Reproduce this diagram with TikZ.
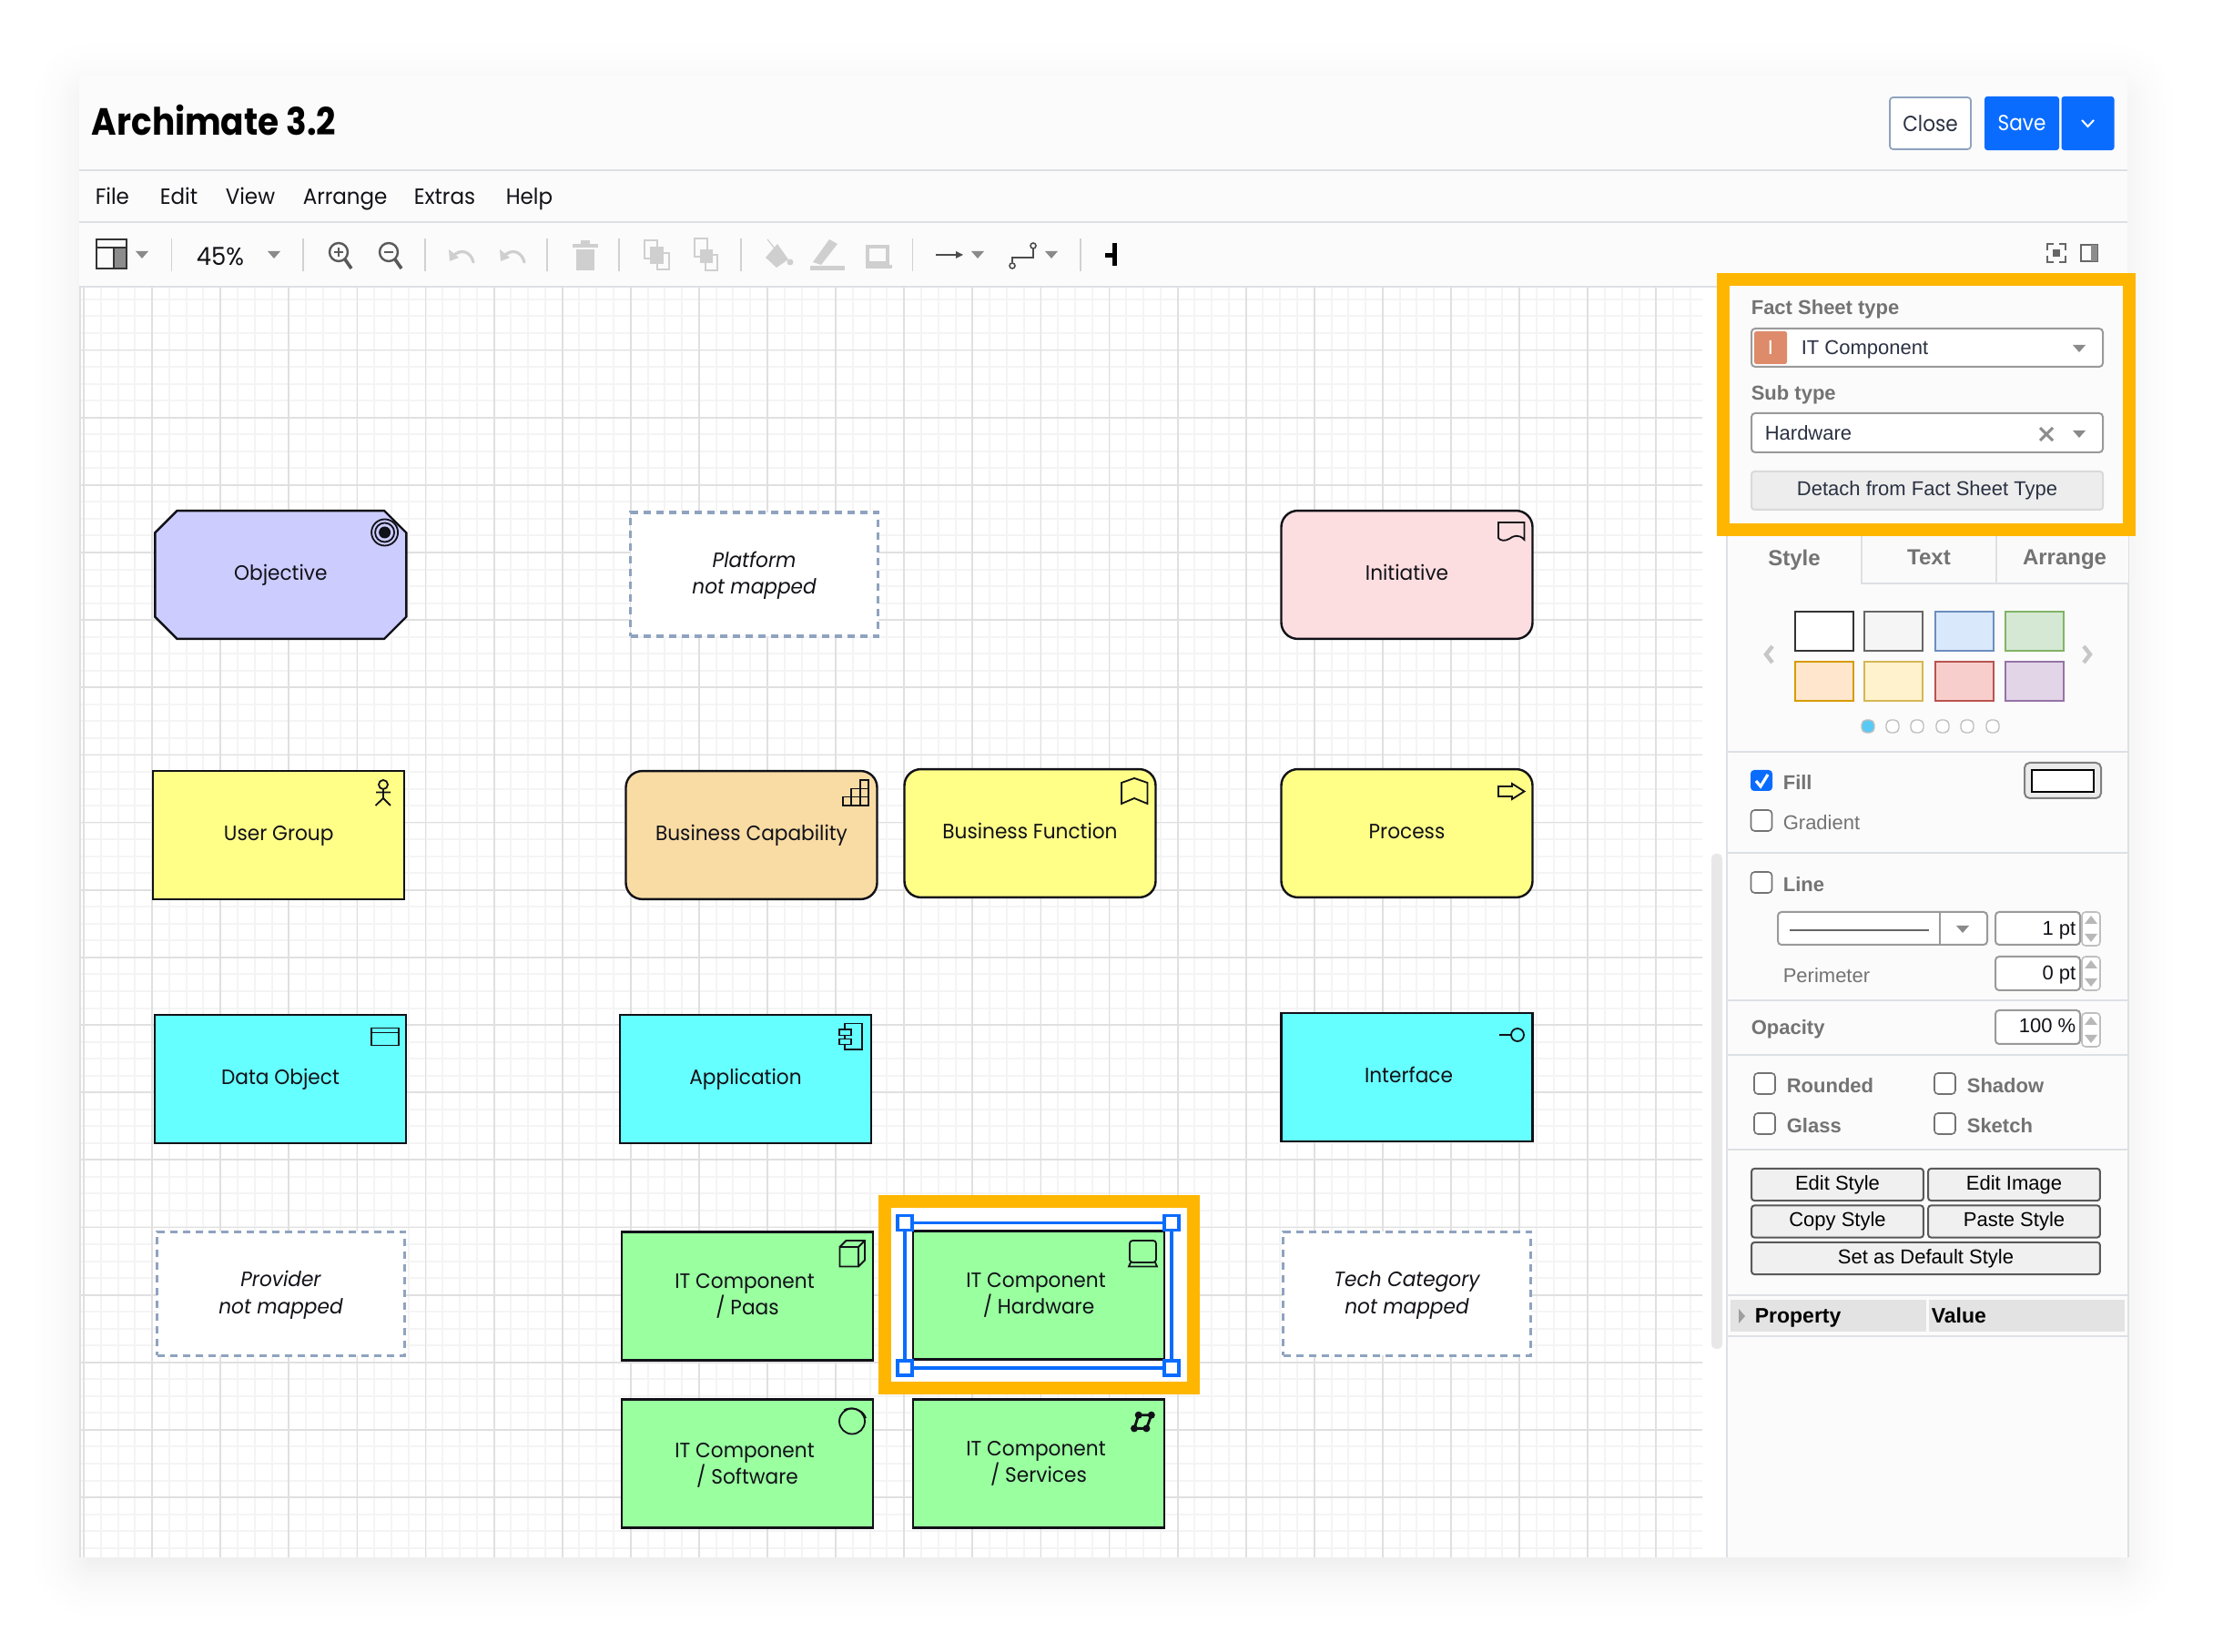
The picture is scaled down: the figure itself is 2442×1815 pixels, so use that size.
\documentclass[tikz,border=0pt]{standalone}
\usepackage{fontspec}
\usetikzlibrary{shapes.misc}
\newfontfamily\poppins[FakeStretch=0.95]{Poppins}
\newfontfamily\poppinsnarrow[FakeStretch=0.9]{Poppins}
\newfontfamily\arialish{Liberation Sans}
\newcommand{\elemfont}{\poppins\fontsize{5.7}{7.4}\selectfont}
\newcommand{\menufont}{\poppins\fontsize{6.05}{7}\selectfont}
\newcommand{\panelfont}{\arialish\fontsize{5.5}{7}\selectfont}
\newcommand{\labelfont}{\arialish\bfseries\fontsize{5.5}{7}\selectfont}
\newcommand{\dropline}{\rule{0pt}{5pt}}
\definecolor{inkcol}{HTML}{111118}
\definecolor{slatecol}{HTML}{2A3142}
\definecolor{labelcol}{HTML}{737373}
\definecolor{sheetcol}{HTML}{FBFBFB}
\definecolor{rulecol}{HTML}{DDE0E4}
\definecolor{gridmajor}{HTML}{E0E0E0}
\definecolor{gridminor}{HTML}{F4F4F4}
\definecolor{hilitecol}{HTML}{FFB600}
\definecolor{bluecol}{HTML}{0A6CFF}
\definecolor{dashcol}{HTML}{8FA3BF}
\definecolor{lilaccol}{HTML}{CCCCFF}
\definecolor{pinkcol}{HTML}{FDDEE0}
\definecolor{yellowcol}{HTML}{FFFF88}
\definecolor{tancol}{HTML}{F9DCA4}
\definecolor{cyancol}{HTML}{66FFFF}
\definecolor{greencol}{HTML}{99FF9F}
\definecolor{offcol}{HTML}{CFCFCF}
\definecolor{inputline}{HTML}{9A9A9A}
\definecolor{triancol}{HTML}{8A8A8A}
\definecolor{badgecol}{HTML}{DD8B6B}
\tikzset{
  elem/.style = {draw = inkcol, line width = .6pt, inner sep = 0, minimum width = 69pt,
    minimum height = 35.2pt, align = center, font = \elemfont, text = inkcol},
  oneline/.style = {text height = 4.4pt, text depth = 1.3pt},
  softelem/.style = {elem, oneline, rounded corners = 4.5pt},
  ghostelem/.style = {elem, draw = dashcol, fill = white, line width = .85pt,
    dash pattern = on 2pt off 1.5pt, minimum width = 68pt, minimum height = 34pt,
    font = \elemfont\itshape},
  icon/.style = {draw = inkcol, line width = .45pt},
  menutxt/.style = {anchor = base west, inner sep = 0, font = \menufont, text = inkcol},
  paneltxt/.style = {anchor = base west, inner sep = 0, font = \panelfont, text = slatecol},
  graytxt/.style = {anchor = base west, inner sep = 0, font = \panelfont, text = labelcol},
  boldtxt/.style = {anchor = base west, inner sep = 0, font = \labelfont, text = labelcol},
  numtxt/.style = {anchor = base east, inner sep = 0, font = \panelfont, text = inkcol},
  tabtxt/.style = {anchor = base, inner sep = 0, text = labelcol,
    font = \arialish\bfseries\fontsize{6}{7}\selectfont},
  cmdbtn/.style = {draw = black!65, fill = black!6, line width = .5pt, rounded corners = .8pt,
    inner sep = 0, minimum width = 47.2pt, minimum height = 8.8pt, font = \panelfont, text = black,
    text height = 4.2pt, text depth = 1.2pt},
  inputbox/.style = {draw = inputline, fill = white, line width = .5pt, rounded corners = 1pt},
  sepline/.style = {draw = rulecol, line width = .55pt},
  tbsep/.style = {draw = black!18, line width = .3pt},
  handle/.style = {draw = bluecol, fill = white, line width = .9pt, inner sep = 0, minimum size = 4pt},
  hilite/.style = {draw = hilitecol, line width = 3.5pt},
  droptri/.pic = {\fill (-7, -4) -- (7, -4) -- (0, 4) -- cycle;},
  chkbox/.pic = {\draw [draw = black!55, fill = white, line width = .4pt, rounded corners = 1pt] (0, 0) rectangle (23, 23);},
  spinner/.pic = {
    \draw [draw = black!25, fill = white, line width = .4pt, rounded corners = 1pt] (0, 0) rectangle (20, 37);
    \fill [black!28] (3, 13) -- (17, 13) -- (10, 4) -- cycle;
    \fill [black!28] (3, 24) -- (17, 24) -- (10, 33) -- cycle;
  },
  undoshape/.pic = {
    \draw [line width = .8pt, line cap = round] (13, 8) .. controls (10, -4) and (-1, -7) .. (-9, 1);
    \fill (-14, -6) -- (-13, 7) -- (-3, 3) -- cycle;
  },
}
\begin{document}
\begin{tikzpicture}[x = .25pt, y = -.25pt]
  \useasboundingbox (0, 0) rectangle (2442, 1815);
  % soft shadow round the window
  \foreach \d in {65, 61, ..., -15} {
    \pgfmathsetmacro{\k}{1 - (\d + 15) / 80}
    \pgfmathsetmacro{\p}{6.5 * \k * \k}
    \pgfmathsetmacro{\r}{max(\d + 15, 1) * .25}
    \fill [black!\p!white, rounded corners = \r pt] ({87 - \d}, {98 - \d}) rectangle ({2337 + \d}, {1726 + \d});
  }
  \fill [sheetcol] (87, 83) rectangle (2337, 1711);
  \fill [white] (87, 316) rectangle (1897, 1711);

  % grid of the canvas
  \begin{scope}
    \clip (87, 316) rectangle (1870, 1711);
    \foreach \i in {0, ..., 96} {
      \draw [gridminor, line width = .5pt] ({92 + 18.775 * \i}, 300) -- ({92 + 18.775 * \i}, 1720);
    }
    \foreach \i in {0, ..., 76} {
      \draw [gridminor, line width = .5pt] (80, {310.4 + 18.5375 * \i}) -- (1890, {310.4 + 18.5375 * \i});
    }
    \foreach \i in {0, ..., 24} {
      \draw [gridmajor, line width = .45pt] ({92 + 75.1 * \i}, 300) -- ({92 + 75.1 * \i}, 1720);
    }
    \foreach \i in {0, ..., 19} {
      \draw [gridmajor, line width = .45pt] (80, {310.4 + 74.15 * \i}) -- (1890, {310.4 + 74.15 * \i});
    }
    \draw [gridmajor, line width = .45pt] (88, 300) -- (88, 1720);
  \end{scope}

  % header
  \node [anchor = base west, inner sep = 0, text = black, font = \poppinsnarrow\bfseries\fontsize{10.4}{12}\selectfont] (title) at (100, 149) {Archimate 3.2};
  \draw [sepline] (87, 187) -- (2337, 187);
  \draw [sepline] (87, 244) -- (2337, 244);
  \draw [sepline] (87, 315) -- (2337, 315);
  \foreach \x/\t in {104/File, 175/Edit, 247/View, 332/Arrange, 454/Extras, 555/Help} {
    \node [menutxt] (menu\t) at (\x, 225) {\t};
  }
  \node [draw = dashcol, fill = white, line width = .45pt, rounded corners = .8pt, inner sep = 0,
    minimum width = 22.2pt, minimum height = 14.2pt, text = slatecol,
    font = \poppinsnarrow\fontsize{6}{7}\selectfont] (closebtn) at (2120.5, 135.5) {Close};
  \node [fill = bluecol, rounded corners = .8pt, inner sep = 0, minimum width = 20.5pt,
    minimum height = 14.8pt, text = white, font = \poppinsnarrow\fontsize{6}{7}\selectfont] (savebtn) at (2221, 135.5) {Save};
  \node [fill = bluecol, rounded corners = .8pt, inner sep = 0, minimum width = 14.5pt,
    minimum height = 14.8pt] (savemore) at (2293.5, 135.5) {};
  \draw [white, line width = .5pt] (2287, 132) -- (2293.5, 139) -- (2300, 132);

  % toolbar
  \foreach \x in {188.5, 333, 467, 601, 680, 814, 1002.5, 1187} {
    \draw [tbsep] (\x, 262) -- (\x, 298);
  }
  \fill [black!45] (125, 272) rectangle (139, 295);
  \draw [icon, draw = black!80] (106, 263) rectangle (139, 295);
  \draw [icon, draw = black!80] (106, 272) -- (139, 272) (125, 272) -- (125, 295);
  \pic [color = triancol] at (156, 280) {droptri};
  \node [menutxt, font = \poppins\fontsize{6.8}{8}\selectfont] (zoomval) at (215, 292) {45\%};
  \pic [color = triancol] at (301, 280) {droptri};
  \foreach \x/\s in {372/1, 427/0} {
    \draw [black!65, line width = .6pt] (\x, 277) circle [radius = 10];
    \draw [black!65, line width = .9pt] ({\x + 7}, 285) -- ({\x + 14}, 295);
    \draw [black!65, line width = .3pt] ({\x - 5}, 277) -- ({\x + 5}, 277);
  }
  \draw [black!65, line width = .3pt] (372, 272) -- (372, 282);
  \pic [color = offcol] at (507, 280) {undoshape};
  \begin{scope}[xscale = -1]
    \pic [color = offcol] at (-563, 280) {undoshape};
  \end{scope}
  % trash
  \fill [offcol] (633, 274) rectangle (653, 297);
  \fill [offcol] (629, 268) rectangle (657, 272);
  \fill [offcol] (638, 264) rectangle (648, 268);
  % to front, to back
  \draw [offcol, line width = .5pt] (708, 264) rectangle (722, 284);
  \draw [offcol, line width = .5pt] (722, 278) rectangle (735, 296);
  \fill [offcol] (714, 271) rectangle (729, 290);
  \draw [offcol, line width = .5pt] (763, 262) rectangle (777, 282);
  \draw [offcol, line width = .5pt] (775, 280) rectangle (788, 297);
  \fill [offcol] (769, 274) rectangle (783, 289);
  % fill, line, shadow
  \fill [offcol] (854, 268) -- (866, 285) -- (853, 294) -- (841, 283) -- cycle;
  \draw [offcol, line width = .3pt] (843, 263) -- (855, 278);
  \fill [offcol] (868, 288) circle [radius = 3.5];
  \fill [offcol] (893, 288) -- (911, 263) -- (920, 268) -- (902, 291) -- cycle;
  \fill [offcol] (890, 292) rectangle (928, 297);
  \draw [offcol, line width = 1pt] (953, 271) rectangle (975, 289);
  \fill [offcol] (951, 291) rectangle (980, 295);
  % connector tools
  \draw [black!70, line width = .45pt] (1028, 280) -- (1054, 280);
  \fill [black!70] (1058, 280) -- (1050, 276) -- (1050, 284) -- cycle;
  \pic [color = triancol] at (1074, 280) {droptri};
  \draw [black!70, line width = .45pt] (1112, 288) -- (1112, 283) -- (1135, 283) -- (1135, 273);
  \draw [black!70, line width = .4pt, fill = white] (1112, 292) circle [radius = 3] (1135, 270) circle [radius = 3];
  \pic [color = triancol] at (1155, 280) {droptri};
  \fill [black] (1222, 267) rectangle (1227, 292);
  \fill [black] (1214, 278) rectangle (1222, 283);
  % right icons
  \draw [black!60, line width = .6pt]
    (2249, 275) -- (2249, 268) -- (2256, 268) (2262, 268) -- (2269, 268) -- (2269, 275)
    (2269, 281) -- (2269, 288) -- (2262, 288) (2256, 288) -- (2249, 288) -- (2249, 281);
  \fill [black!60] (2255, 274) rectangle (2263, 282);
  \draw [black!60, line width = .4pt] (2286, 269) rectangle (2304, 287);
  \fill [black!45] (2297, 269) rectangle (2304, 287);

  % canvas elements
  \node [elem, oneline, chamfered rectangle, chamfered rectangle sep = 3.2pt, fill = lilaccol] (objective) at (308.3, 631.5) {Objective};
  \node [ghostelem] (platform) at (828.6, 631) {\dropline Platform\\not mapped};
  \node [softelem, fill = pinkcol] (initiative) at (1545.5, 631.5) {Initiative};
  \node [elem, oneline, fill = yellowcol] (usergroup) at (306.2, 917.5) {User Group};
  \node [softelem, fill = tancol] (capability) at (825.5, 917.5) {Business Capability};
  \node [softelem, fill = yellowcol] (bizfunction) at (1131.5, 915.5) {Business Function};
  \node [softelem, fill = yellowcol] (process) at (1545.5, 915.5) {Process};
  \node [elem, oneline, fill = cyancol] (dataobject) at (308, 1185.5) {Data Object};
  \node [elem, oneline, fill = cyancol] (application) at (819, 1185.5) {Application};
  \node [elem, oneline, fill = cyancol] (interface) at (1545.5, 1183.5) {\hspace*{1pt}Interface};
  \node [ghostelem] (provider) at (308.5, 1421.5) {\dropline Provider\\not mapped};
  \node [elem, fill = greencol] (itpaas) at (821, 1424) {IT Component\hspace*{1.5pt}\\/ Paas};
  \node [ghostelem] (techcat) at (1545.5, 1421.5) {\dropline Tech Category\\not mapped};
  \node [elem, fill = greencol] (itsoftware) at (821, 1608) {\dropline IT Component\hspace*{1.5pt}\\/ Software};
  \node [elem, fill = greencol] (itservices) at (1141, 1608) {IT Component\hspace*{1.5pt}\\/ Services};

  % highlight round the selected element
  \fill [white] (972, 1320) rectangle (1311, 1525);
  \draw [hilite] (972, 1320) rectangle (1311, 1525);
  \node [elem, fill = greencol] (ithardware) at (1141, 1423) {IT Component\hspace*{1.5pt}\\/ Hardware};
  \coordinate (selnw) at (994, 1343.5);
  \coordinate (selne) at (1287, 1343.5);
  \coordinate (selse) at (1287, 1503);
  \coordinate (selsw) at (994, 1503);
  \draw [bluecol, line width = .9pt] (selnw) -- (selne) -- (selse) -- (selsw) -- cycle;
  \node [handle] (hnw) at (selnw) {};
  \node [handle] (hne) at (selne) {};
  \node [handle] (hse) at (selse) {};
  \node [handle] (hsw) at (selsw) {};

  % element icons
  \draw [icon] (422.6, 585) circle [radius = 14.5];
  \draw [icon] (422.6, 585) circle [radius = 10.5];
  \fill [inkcol] (422.6, 585) circle [radius = 6.5];
  \draw [icon] (421, 862) circle [radius = 5];
  \draw [icon] (421, 867) -- (421, 877) (413, 870.5) -- (429, 870.5) (412.5, 885) -- (421, 877) -- (429, 885);
  \draw [icon] (926, 885) rectangle (954, 875.5) (935.3, 885) -- (935.3, 866.5) -- (954, 866.5)
    (944.7, 885) -- (944.7, 857) -- (954, 857) -- (954, 875.5);
  \draw [icon] (1646, 574) -- (1674.5, 574) -- (1674.5, 593) .. controls (1668, 586) and (1662, 589) .. (1658, 592) .. controls (1653, 595) and (1648, 594) .. (1646, 591) -- cycle;
  \draw [icon] (1232, 860) -- (1246, 855) -- (1260.5, 860) -- (1260.5, 883) -- (1246, 877) -- (1232, 883) -- cycle;
  \draw [icon] (1646, 864) -- (1661, 864) -- (1661, 861) -- (1674.5, 869.5) -- (1661, 878) -- (1661, 875) -- (1646, 875) -- cycle;
  \draw [icon] (408, 1129.5) rectangle (438, 1148.5) (408, 1134.5) -- (438, 1134.5);
  \draw [icon] (928, 1131) -- (928, 1124.5) -- (946.6, 1124.5) -- (946.6, 1153) -- (928, 1153) -- (928, 1147.5);
  \draw [icon] (922, 1131) rectangle (934.6, 1137.5) (922, 1141.5) rectangle (934.6, 1147.5) (928, 1137.5) -- (928, 1141.5);
  \draw [icon] (1647, 1137) -- (1660, 1137);
  \draw [icon] (1667, 1137) circle [radius = 7];
  \draw [icon] (922.5, 1370) rectangle (943, 1391.5) (922.5, 1370) -- (929.5, 1363) -- (950, 1363) -- (950, 1384.5) -- (943, 1391.5) (943, 1370) -- (950, 1363);
  \draw [icon, rounded corners = .8pt] (1241, 1363) rectangle (1270, 1387);
  \draw [icon] (1242, 1387) -- (1240, 1391.5) -- (1271, 1391.5) -- (1269, 1387);
  \draw [icon] (936, 1561.5) circle [radius = 14];
  \draw [icon] (927, 1549.5) .. controls (934, 1545) and (948, 1548) .. (951, 1558);
  \draw [icon, line width = .7pt] (1250.7, 1554.7) -- (1264.8, 1554.7) -- (1259.4, 1569.4) -- (1246, 1569.4) -- cycle;
  \foreach \x/\y in {1250.7/1554.7, 1264.8/1554.7, 1259.4/1569.4, 1246/1569.4} {
    \fill [inkcol] (\x, \y) circle [radius = 4];
  }

  % scrollbar
  \fill [black!9, rounded corners = 1.2pt] (1880, 938) rectangle (1892, 1482);

  % right panel
  \fill [sheetcol] (1897, 316) rectangle (2338, 1711);
  \draw [sepline] (1897, 575) -- (1897, 1711);
  \draw [sepline] (2338, 575) -- (2338, 1711);
  \fill [black!2] (2045, 589) rectangle (2338, 641);
  \draw [sepline] (2045, 589) -- (2045, 641) -- (2338, 641) (2193, 589) -- (2193, 641);
  \node [tabtxt] (tabstyle) at (1971, 622) {Style};
  \node [tabtxt] (tabtext) at (2119, 621) {Text};
  \node [tabtxt] (tabarrange) at (2268, 621) {Arrange};

  % fact sheet box
  \draw [hilite, fill = sheetcol] (1893, 307) rectangle (2339, 582);
  \node [boldtxt] (factlabel) at (1923, 346) {Fact Sheet type};
  \draw [inputbox] (1924, 361) rectangle (2310, 403);
  \node [fill = badgecol, rounded corners = .6pt, inner sep = 0, minimum size = 9pt,
    text = white, font = \panelfont] (factbadge) at (1945, 382) {I};
  \node [paneltxt] (facttype) at (1978, 390) {IT Component};
  \pic [color = triancol] at (2284, 383) {droptri};
  \node [boldtxt] (sublabel) at (1923, 440) {Sub type};
  \draw [inputbox] (1924, 454) rectangle (2310, 497);
  \node [paneltxt] (subtype) at (1938, 484) {Hardware};
  \draw [black!45, line width = .75pt] (2241, 470) -- (2255, 484) (2255, 470) -- (2241, 484);
  \pic [color = triancol] at (2284, 477) {droptri};
  \node [draw = black!15, fill = black!7, line width = .5pt, rounded corners = .8pt, inner sep = 0,
    minimum width = 96.5pt, minimum height = 10.5pt, font = \panelfont, text = slatecol] (detachbtn) at (2117, 539) {Detach from Fact Sheet Type};

  % swatches
  \foreach \x/\y/\f/\l in {1972/672/FFFFFF/333333, 2048/672/F5F5F5/666666, 2126/672/DAE8FC/6C8EBF, 2203/672/D5E8D4/82B366,
                           1972/727/FFE6CC/D79B00, 2048/727/FFF2CC/D6B656, 2126/727/F8CECC/B85450, 2203/727/E1D5E7/9673A6} {
    \definecolor{swfill}{HTML}{\f}
    \definecolor{swline}{HTML}{\l}
    \draw [swline, fill = swfill, line width = .4pt] (\x, \y) rectangle ({\x + 64}, {\y + 43});
  }
  \draw [black!22, line width = 1.1pt] (1947, 710) -- (1940, 719) -- (1947, 728);
  \draw [black!22, line width = 1.1pt] (2289, 710) -- (2296, 719) -- (2289, 728);
  \foreach \x in {2079, 2106, 2134, 2161, 2189} {
    \draw [draw = black!25, fill = white, line width = .35pt, rounded corners = 1.3pt] ({\x - 7}, 791) rectangle ({\x + 7}, 805);
  }
  \draw [draw = black!25, fill = cyan!65!white, line width = .35pt, rounded corners = 1.3pt] (2045, 791) rectangle (2059, 805);
  \draw [sepline] (1897, 826) -- (2338, 826);

  % fill and line
  \fill [bluecol, rounded corners = 1pt] (1923, 846) rectangle (1947, 869);
  \draw [white, line width = .8pt] (1929, 858) -- (1934, 864) -- (1942, 851);
  \node [boldtxt] (filllabel) at (1958, 868) {Fill};
  \draw [draw = black!50, fill = black!8, line width = .5pt, rounded corners = 1.4pt] (2224, 838) rectangle (2308, 877);
  \draw [draw = black, fill = white, line width = .5pt] (2232, 846) rectangle (2300, 870);
  \pic at (1923.5, 890) {chkbox};
  \node [graytxt] (gradlabel) at (1958, 912) {Gradient};
  \draw [sepline] (1897, 937) -- (2338, 937);
  \pic at (1923.5, 958) {chkbox};
  \node [boldtxt] (linelabel) at (1958, 980) {Line};
  \draw [inputbox] (1953, 1002) rectangle (2183, 1038);
  \draw [inputline, line width = .4pt] (2131, 1002) -- (2131, 1038);
  \draw [black!60, line width = .35pt] (1966, 1022) -- (2119, 1022);
  \pic [color = triancol] at (2156, 1021) {droptri};
  \draw [inputbox] (2192, 1002) rectangle (2285, 1038);
  \node [numtxt] (linewidth) at (2281, 1028) {1 pt};
  \pic at (2287, 1002) {spinner};
  \node [graytxt] (perimlabel) at (1958, 1080) {Perimeter};
  \draw [inputbox] (2192, 1051) rectangle (2285, 1088);
  \node [numtxt] (perimval) at (2281, 1077) {0 pt};
  \pic at (2287, 1051) {spinner};
  \draw [sepline] (1897, 1099) -- (2338, 1099);

  % opacity
  \node [boldtxt] (opacitylabel) at (1923, 1137) {Opacity};
  \draw [inputbox] (2192, 1110) rectangle (2285, 1147);
  \node [numtxt] (opacityval) at (2281, 1135) {100 \%};
  \pic at (2287, 1113) {spinner};
  \draw [sepline] (1897, 1159) -- (2338, 1159);

  % checkboxes
  \foreach \x/\y/\t in {1927/1179/Rounded, 2125/1179/Shadow, 1927/1223/Glass, 2125/1223/Sketch} {
    \pic at (\x, \y) {chkbox};
    \node [boldtxt] (opt\t) at ({\x + 35}, {\y + 22}) {\t};
  }
  \draw [sepline] (1897, 1263) -- (2338, 1263);

  % style buttons
  \node [cmdbtn] (editstyle) at (2018.5, 1301.5) {Edit Style};
  \node [cmdbtn] (editimage) at (2212.5, 1301.5) {Edit Image};
  \node [cmdbtn] (copystyle) at (2018.5, 1342) {Copy Style};
  \node [cmdbtn] (pastestyle) at (2212.5, 1342) {Paste Style};
  \node [cmdbtn, minimum width = 95.7pt] (defaultstyle) at (2115.5, 1382.5) {Set as Default Style};
  \draw [sepline] (1897, 1423) -- (2338, 1423);

  % property table
  \fill [black!11] (1901, 1428) rectangle (2116, 1463);
  \fill [black!11] (2119, 1428) rectangle (2334, 1463);
  \fill [black!38] (1910, 1438) -- (1917, 1446) -- (1910, 1454) -- cycle;
  \node [boldtxt, text = black, font = \arialish\bfseries\fontsize{5.75}{7}\selectfont] (propcol) at (1927, 1454) {Property};
  \node [boldtxt, text = black, font = \arialish\bfseries\fontsize{5.75}{7}\selectfont] (valcol) at (2121, 1454) {Value};
  \draw [sepline] (1897, 1468) -- (2338, 1468);
\end{tikzpicture}
\end{document}
